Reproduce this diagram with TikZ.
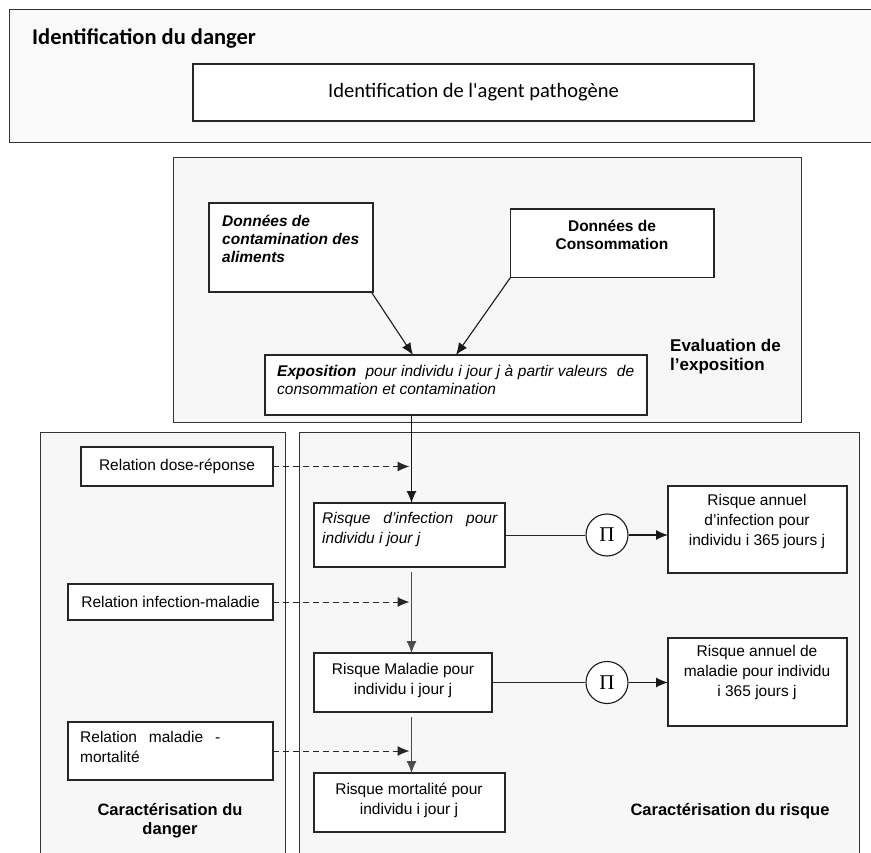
\documentclass[tikz,border=0pt]{standalone}
\usepackage{fontspec}
\setmainfont{Liberation Sans}
\newfontfamily\calib{Carlito}
\newfontfamily\piserif{Liberation Serif}
\usetikzlibrary{arrows.meta}
\begin{document}
\begin{tikzpicture}[x=1pt,y=-1pt,
  panel/.style={draw=black!80, line width=1pt, fill=gray!6, anchor=north west, inner sep=0pt, outer sep=0pt},
  box/.style={draw=black!85, line width=1.3pt, fill=white, anchor=north west, inner sep=0pt, outer sep=0pt, font=\fontsize{15.5}{20}\selectfont},
  txt/.style={inner sep=0pt, font=\fontsize{15.5}{20}\selectfont},
  arr/.style={draw=black!90, line width=1.1pt, -{Latex[length=12pt,width=10pt]}},
  thinarr/.style={draw=black!70, line width=0.8pt, -{Latex[length=12pt,width=10pt]}},
  plain/.style={draw=black!85, line width=1pt},
  dasharr/.style={draw=black!85, line width=1pt, dash pattern=on 6pt off 4pt, -{Latex[length=12pt,width=10pt]}},
  pinode/.style={circle, draw=black!90, line width=1.1pt, fill=white, minimum size=42pt, inner sep=0pt, font=\piserif\fontsize{21}{21}\selectfont}]
\useasboundingbox (0,0) rectangle (871,853);
\fill[white] (0,0) rectangle (871,853);

% Identification du danger
\node[panel, fill=gray!5, minimum width=880pt, minimum height=133pt] (tbox) at (9.5,9.5) {};
\node[inner sep=0pt, anchor=west, font=\calib\bfseries\fontsize{22.5}{26}\selectfont] (ttitle) at (32,38) {Identification du danger};
\node[box, minimum width=561pt, minimum height=57pt, font=\calib\fontsize{20.5}{24}\selectfont] (idagent) at (193,64) {Identification de l'agent pathogène};

% Evaluation de l'exposition
\node[panel, minimum width=627.5pt, minimum height=264pt] (exppanel) at (173.5,158) {};
\node[box, minimum width=164pt, minimum height=89pt] (dcont) at (209,203) {};
\node[txt, anchor=west, align=left, font=\bfseries\itshape\fontsize{15.5}{18}\selectfont] (dconttxt) at (222,239) {Données de\\contamination des\\aliments};
\node[box, minimum width=203.5pt, minimum height=68.5pt] (dcons) at (510.5,209) {};
\node[txt, align=center, font=\bfseries\fontsize{15.5}{18}\selectfont] (dconstxt) at (612,234.5) {Données de\\Consommation};
\node[box, minimum width=382pt, minimum height=60pt] (expo) at (265,355) {};
\node[txt, anchor=west, align=left, font=\itshape\fontsize{15.5}{18}\selectfont] (expotxt) at (277,380)
  {\makebox[357pt][s]{\textbf{Exposition}\ \ pour individu i jour j à partir valeurs\ \ de}\\consommation et contamination};
\node[txt, anchor=west, align=left, font=\bfseries\fontsize{17}{19.5}\selectfont] (evaltxt) at (670,356.5) {Evaluation de\\l’exposition};

\draw[arr] ([xshift=-1pt,yshift=-1pt]dcont.south east) -- ([xshift=-43pt]expo.north);
\draw[arr] (dcons.south west) -- (expo.north);

% Caracterisation panels
\node[panel, minimum width=245.5pt, minimum height=440pt] (dangerpanel) at (40,432) {};
\node[panel, minimum width=560pt, minimum height=440pt] (risquepanel) at (299,432) {};

\node[box, minimum width=192pt, minimum height=39pt] (rdose) at (81,447) {Relation dose-réponse};
\node[box, minimum width=205pt, minimum height=36pt] (rim) at (68,584) {Relation infection-maladie};
\node[box, minimum width=205pt, minimum height=58pt] (rmm) at (68,722) {};
\node[txt, anchor=west, align=left] (rmmtxt) at (80,747) {\makebox[140pt][s]{Relation maladie -}\\mortalité};

\node[box, minimum width=191pt, minimum height=64pt] (rinf) at (314,503) {};
\node[txt, anchor=west, align=left, font=\itshape\fontsize{15.5}{20}\selectfont] (rinftxt) at (322,529) {\makebox[175pt][s]{Risque d'infection pour}\\individu i jour j};
\node[box, minimum width=178pt, minimum height=59pt] (rmal) at (314,653) {};
\node[txt, align=center] (rmaltxt) at (403,680.5) {Risque Maladie pour\\individu i jour j};
\node[box, minimum width=191pt, minimum height=59pt] (rmort) at (314,773) {};
\node[txt, align=center] (rmorttxt) at (409,800) {Risque mortalité pour\\individu i jour j};

\node[box, minimum width=179pt, minimum height=87pt] (anninf) at (668,486) {};
\node[txt, align=center] (anninftxt) at (757,521) {Risque annuel\\d'infection pour\\individu i 365 jours j};
\node[box, minimum width=179pt, minimum height=88pt] (annmal) at (668,638) {};
\node[txt, align=center] (annmaltxt) at (757,672) {Risque annuel de\\maladie pour individu\\i 365 jours j};

\node[pinode] (c1) at (607,535) {Π};
\node[pinode] (c2) at (607,682.5) {Π};

\node[txt, align=center, font=\bfseries\fontsize{16.5}{18.5}\selectfont] (cdanger) at (170,820.5) {Caractérisation du\\danger};
\node[txt, font=\bfseries\fontsize{16.5}{18.5}\selectfont] (crisque) at (730,811) {Caractérisation du risque};

% connectors
\coordinate (vx) at (411.5,0);
\draw[arr] (expo.south -| vx) -- (rinf.north -| vx);
\draw[thinarr, shorten <=5pt] (rinf.south -| vx) -- (rmal.north -| vx);
\draw[thinarr, shorten <=5pt] (rmal.south -| vx) -- (rmort.north -| vx);
\draw[dasharr, shorten >=2pt] (rdose.east) -- (rdose.east -| vx);
\draw[dasharr, shorten >=2pt] (rim.east) -- (rim.east -| vx);
\draw[dasharr, shorten >=2pt] (rmm.east) -- (rmm.east -| vx);

\draw[plain] (rinf.east) -- (c1);
\draw[arr] (c1) -- (c1 -| anninf.west);
\draw[plain] (rmal.east) -- (c2);
\draw[arr] (c2) -- (c2 -| annmal.west);
\end{tikzpicture}
\end{document}
